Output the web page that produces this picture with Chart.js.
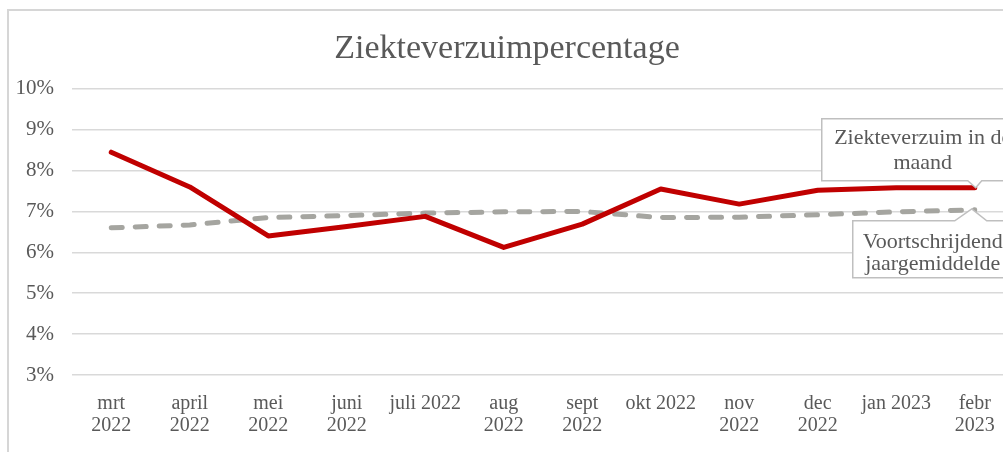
<!DOCTYPE html>
<html>
<head>
<meta charset="utf-8">
<script src="https://cdn.jsdelivr.net/npm/chart.js@4/dist/chart.umd.min.js"></script>
<style>
  html, body { margin: 0; padding: 0; background: #fff; overflow: hidden; }
  #wrap { width: 1003px; height: 452px; overflow: hidden; position: relative; }
  canvas { position: absolute; left: 0; top: 0; }
</style>
</head>
<body>
<div id="wrap"><canvas id="chart" width="1030" height="452"></canvas></div>
<script>
const months = [
    ['mrt', '2022'], ['april', '2022'], ['mei', '2022'], ['juni', '2022'],
    'juli 2022', ['aug', '2022'], ['sept', '2022'], 'okt 2022',
    ['nov', '2022'], ['dec', '2022'], 'jan 2023', ['febr', '2023']
];
const verzuimMaand = [8.45, 7.6, 6.4, 6.63, 6.88, 6.12, 6.69, 7.55, 7.18, 7.52, 7.58, 7.58];
const jaargemiddelde = [6.6, 6.67, 6.85, 6.9, 6.96, 6.99, 7.0, 6.85, 6.86, 6.92, 6.99, 7.04];
const yTicks = [3, 4, 5, 6, 7, 8, 9, 10];

const serif = '"Liberation Serif", "Times New Roman", serif';
const textGray = '#595959';

// kader om de grafiek + witte achtergrond
const framePlugin = {
    id: 'frame',
    beforeDraw(chart) {
        const ctx = chart.ctx;
        ctx.save();
        ctx.fillStyle = '#fff';
        ctx.fillRect(0, 0, chart.width, chart.height);
        ctx.strokeStyle = '#d6d6d6';
        ctx.lineWidth = 2;
        ctx.strokeRect(8, 10, chart.width + 20, chart.height + 20);
        ctx.restore();
    }
};

// callout-label bij het laatste punt van een reeks
function drawCallout(ctx, box, wedge, tip, lines, cx, baselines) {
    ctx.beginPath();
    ctx.moveTo(box.l, box.t);
    if (wedge.side === 'top') {
        ctx.lineTo(wedge.a, box.t);
        ctx.lineTo(tip.x, tip.y);
        ctx.lineTo(wedge.b, box.t);
    }
    ctx.lineTo(box.r, box.t);
    ctx.lineTo(box.r, box.b);
    if (wedge.side === 'bottom') {
        ctx.lineTo(wedge.b, box.b);
        ctx.lineTo(tip.x, tip.y);
        ctx.lineTo(wedge.a, box.b);
    }
    ctx.lineTo(box.l, box.b);
    ctx.closePath();
    ctx.fillStyle = '#fff';
    ctx.fill();
    ctx.strokeStyle = '#bfbfbf';
    ctx.lineWidth = 1.5;
    ctx.stroke();
    ctx.fillStyle = textGray;
    ctx.font = '22px ' + serif;
    ctx.textAlign = 'center';
    ctx.textBaseline = 'alphabetic';
    lines.forEach((t, i) => ctx.fillText(t, cx, baselines[i]));
}

const calloutPlugin = {
    id: 'callouts',
    afterDatasetsDraw(chart) {
        const ctx = chart.ctx;
        const last = months.length - 1;
        const p0 = chart.getDatasetMeta(0).data[last];
        const p1 = chart.getDatasetMeta(1).data[last];
        ctx.save();
        drawCallout(ctx,
            { l: p0.x - 153, t: p0.y - 69, r: p0.x + 45, b: p0.y - 7 },
            { side: 'bottom', a: p0.x - 7, b: p0.x + 7 },
            { x: p0.x + 1, y: p0.y },
            ['Ziekteverzuim in de', 'maand'], p0.x - 52, [p0.y - 44, p0.y - 19]);
        drawCallout(ctx,
            { l: p1.x - 122, t: p1.y + 11, r: p1.x + 36, b: p1.y + 68 },
            { side: 'top', a: p1.x - 20, b: p1.x + 12 },
            { x: p1.x - 3, y: p1.y - 1 },
            ['Voortschrijdend', 'jaargemiddelde'], p1.x - 42, [p1.y + 38, p1.y + 60]);
        ctx.restore();
    }
};

const ctx = document.getElementById('chart').getContext('2d');
const chart = new Chart(ctx, {
    type: 'line',
    data: {
        labels: months,
        datasets: [
            {
                label: 'Ziekteverzuim in de maand',
                data: verzuimMaand,
                borderColor: '#c00000',
                borderWidth: 5,
                borderCapStyle: 'round',
                borderJoinStyle: 'round',
                pointRadius: 0,
                tension: 0,
                fill: false
            },
            {
                label: 'Voortschrijdend jaargemiddelde',
                data: jaargemiddelde,
                borderColor: '#a5a5a0',
                borderWidth: 5,
                borderDash: [11, 13],
                borderCapStyle: 'round',
                borderJoinStyle: 'round',
                pointRadius: 0,
                tension: 0,
                fill: false,
                order: 1
            }
        ]
    },
    options: {
        responsive: false,
        animation: false,
        devicePixelRatio: 1,
        layout: { padding: { left: 0, right: 16, top: 0, bottom: 0 } },
        plugins: {
            legend: { display: false },
            tooltip: { enabled: false },
            title: {
                display: true,
                text: 'Ziekteverzuimpercentage',
                color: textGray,
                font: { family: serif, size: 34, weight: 'normal' },
                padding: { top: 29, bottom: 19 }
            }
        },
        scales: {
            x: {
                offset: true,
                grid: { display: false, drawTicks: false },
                border: { display: false },
                ticks: {
                    color: textGray,
                    font: { family: serif, size: 20, lineHeight: 1.1 },
                    padding: 18,
                    maxRotation: 0,
                    autoSkip: false
                },
                afterFit(scale) { scale.height = 77; }
            },
            y: {
                min: 3,
                max: 10,
                afterBuildTicks(scale) { scale.ticks = yTicks.map(v => ({ value: v })); },
                grid: { color: '#d9d9d9', lineWidth: 1.5, drawTicks: false },
                border: { display: false },
                ticks: {
                    color: textGray,
                    font: { family: serif, size: 21 },
                    padding: 18,
                    callback: v => v + '%'
                },
                afterFit(scale) { scale.width = 72; }
            }
        }
    },
    plugins: [framePlugin, calloutPlugin]
});
</script>
</body>
</html>
